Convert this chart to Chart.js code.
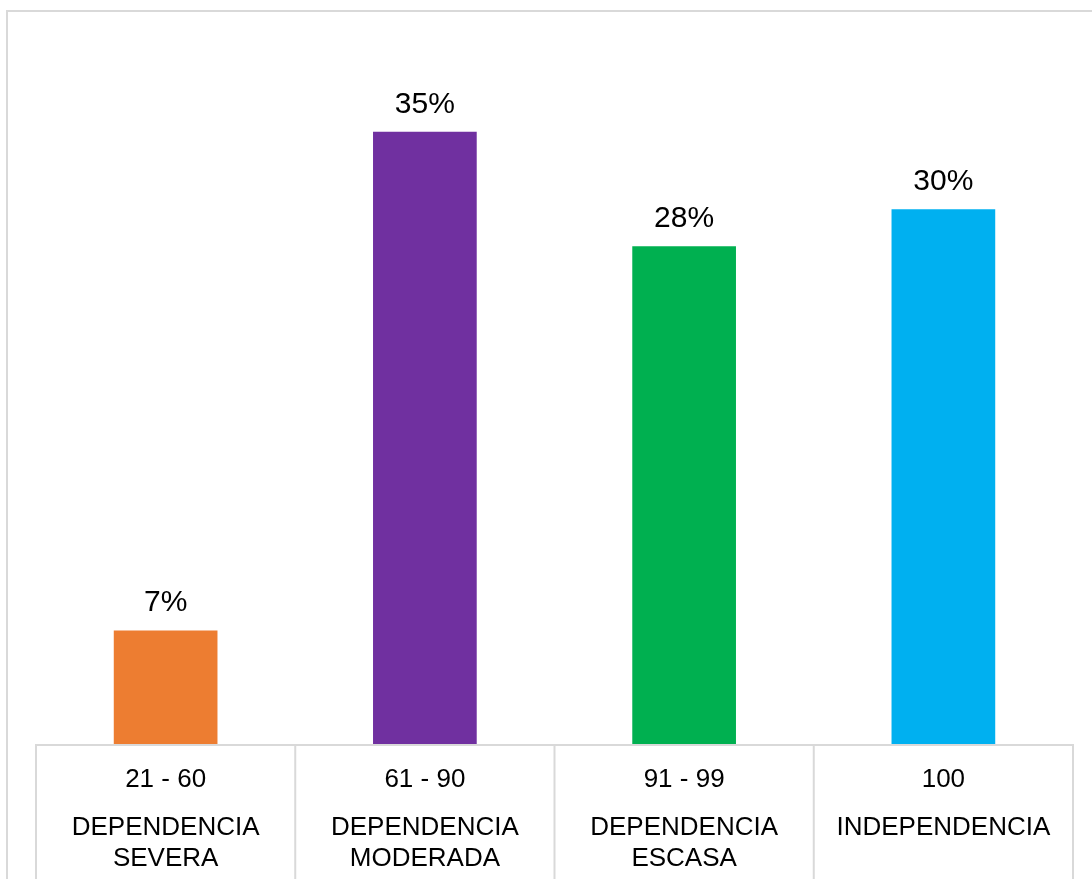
<!DOCTYPE html>
<html>
<head>
<meta charset="utf-8">
<script src="https://cdn.jsdelivr.net/npm/chart.js@4/dist/chart.umd.min.js"></script>
<style>
  html, body { margin: 0; padding: 0; background: #fff; overflow: hidden; }
  #frame { position: absolute; left: 6px; top: 10px; width: 1200px; height: 1000px; border: 2px solid #d9d9d9; }
  #wrap { position: absolute; left: 0; top: 0; width: 1092px; height: 879px; }
</style>
</head>
<body>
<div id="frame"></div>
<div id="wrap"><canvas id="chart"></canvas></div>
<script>
const ranges = ['21 - 60', '61 - 90', '91 - 99', '100'];
const levels = [['DEPENDENCIA', 'SEVERA'], ['DEPENDENCIA', 'MODERADA'], ['DEPENDENCIA', 'ESCASA'], ['INDEPENDENCIA']];
const percents = [6.5, 34.8, 28.3, 30.4];
const barColors = ['#ED7D31', '#7030A0', '#00B050', '#00B0F0'];

const FONT = "'Liberation Sans', Arial, sans-serif";

// value labels above the bars
const valueLabels = {
  id: 'valueLabels',
  afterDatasetsDraw(chart) {
    const ctx = chart.ctx;
    const meta = chart.getDatasetMeta(0);
    ctx.save();
    ctx.font = '30px ' + FONT;
    ctx.fillStyle = '#000';
    ctx.textAlign = 'center';
    ctx.textBaseline = 'alphabetic';
    meta.data.forEach((bar, i) => {
      ctx.fillText(Math.round(percents[i]) + '%', bar.x, bar.y - 19);
    });
    ctx.restore();
  }
};

// table lines under the categories
const tableLines = {
  id: 'tableLines',
  afterDraw(chart) {
    const ctx = chart.ctx;
    const x = chart.scales.x;
    const top = chart.chartArea.bottom;
    const bottom = chart.height;
    const xs = [x.left];
    for (let i = 1; i < ranges.length; i++) {
      xs.push((x.getPixelForValue(i - 1) + x.getPixelForValue(i)) / 2);
    }
    xs.push(x.right);
    ctx.save();
    ctx.strokeStyle = '#d9d9d9';
    ctx.lineWidth = 2;
    ctx.beginPath();
    ctx.moveTo(x.left - 1, top);
    ctx.lineTo(x.right + 1, top);
    xs.forEach(px => {
      ctx.moveTo(px, top);
      ctx.lineTo(px, bottom);
    });
    ctx.stroke();
    ctx.restore();
  }
};

new Chart(document.getElementById('chart'), {
  type: 'bar',
  data: {
    labels: ranges,
    datasets: [{
      data: percents,
      backgroundColor: barColors,
      barPercentage: 0.4,
      categoryPercentage: 1
    }]
  },
  options: {
    responsive: true,
    maintainAspectRatio: false,
    animation: false,
    layout: { padding: { top: 40, left: 36, right: 19, bottom: 0 } },
    plugins: { legend: { display: false }, tooltip: { enabled: false } },
    scales: {
      y: { display: false, min: 0, max: 40 },
      x: {
        weight: 0,
        grid: { display: false },
        border: { display: false },
        ticks: { color: '#000', font: { family: FONT, size: 26 }, padding: 11, maxRotation: 0, autoSkip: false },
        afterFit(scale) { scale.height = 50; }
      },
      x2: {
        type: 'category',
        position: 'bottom',
        weight: 1,
        labels: levels,
        grid: { display: false },
        border: { display: false },
        ticks: { color: '#000', font: { family: FONT, size: 26, lineHeight: 1.2 }, padding: 9, maxRotation: 0, autoSkip: false },
        afterFit(scale) { scale.height = 84; }
      }
    }
  },
  plugins: [valueLabels, tableLines]
});
</script>
</body>
</html>
